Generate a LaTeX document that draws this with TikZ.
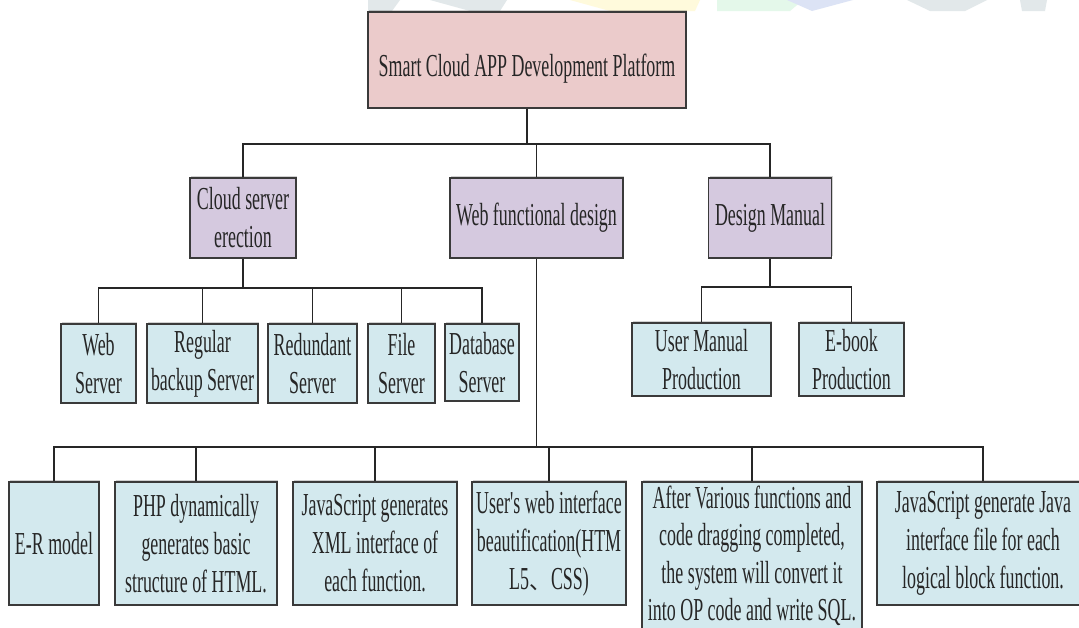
\documentclass[tikz,border=0pt]{standalone}
\usepackage{fontspec}
\setmainfont[FakeStretch=0.56, Ligatures=TeXOff]{Liberation Serif}
\newfontfamily\cjkfont{Noto Sans CJK SC}
\usetikzlibrary{shadows}

\definecolor{rootfill}{HTML}{EBCBCB}
\definecolor{midfill}{HTML}{D5C9DF}
\definecolor{leaffill}{HTML}{D3E9EE}
\definecolor{edgecol}{HTML}{3A3A3A}
\definecolor{wmgray}{HTML}{E2E8EA}
\definecolor{wmyellow}{HTML}{FFFADC}
\definecolor{wmgreen}{HTML}{E4F8EA}
\definecolor{wmblue}{HTML}{DCE3F5}

\tikzset{
  box/.style={draw=edgecol, line width=1.4pt, align=center, inner sep=0pt,
    font=\fontsize{32}{38}\selectfont, text=black!85,
    drop shadow={shadow xshift=1pt, shadow yshift=2pt, fill=black, opacity=0.18}},
  rootbox/.style={box, fill=rootfill},
  midbox/.style={box, fill=midfill},
  leafbox/.style={box, fill=leaffill},
  wire/.style={draw=black!85, line width=1.3pt}
}

\begin{document}
\begin{tikzpicture}[x=1pt, y=-1pt]
  \useasboundingbox (0,0) rectangle (1079,627);
  \fill[white] (0,0) rectangle (1079,627);

  % faint emblem showing along the top edge
  \begin{scope}
    \clip (0,0) rectangle (1079,11);
    \fill[wmgray] (368,0) -- (400,0) -- (392,11) -- (368,11) -- cycle;
    \fill[wmgray] (430,0) -- (507,0) -- (500,11) -- (470,11) -- cycle;
    \fill[wmyellow] (570,0) -- (700,0) -- (695,11) -- (610,11) -- cycle;
    \fill[wmgreen] (717,0) -- (803,0) -- (790,11) -- (717,11) -- cycle;
    \fill[wmblue] (787,0) -- (853,0) -- (812,11) -- cycle;
    \fill[wmgray] (907,0) -- (987,0) -- (965,11) -- (930,11) -- cycle;
    \fill[wmgray] (1020,0) -- (1047,0) -- (1045,11) -- (1022,11) -- cycle;
  \end{scope}

  % level 0
  \node[rootbox, minimum width=318pt, minimum height=96pt,
        text height=38pt, text depth=6pt] (root) at (527,60)
        {Smart Cloud APP Development Platform};

  % level 1
  \node[midbox, minimum width=106pt, minimum height=80pt] (cloud) at (243,218)
        {Cloud server\\erection};
  \node[midbox, minimum width=173pt, minimum height=80pt] (webfn) at (536.5,218)
        {Web functional design};
  \node[midbox, minimum width=123pt, minimum height=80pt] (manual) at (770,218)
        {Design Manual};

  % servers
  \node[leafbox, minimum width=75pt, minimum height=79pt] (websrv) at (98.5,363.5)
        {Web\\Server};
  \node[leafbox, minimum width=111pt, minimum height=79pt] (backup) at (202.5,363.5)
        {Regular\\backup Server};
  \node[leafbox, minimum width=89pt, minimum height=79pt] (redund) at (312.5,363.5)
        {Redundant\\Server};
  \node[leafbox, minimum width=67pt, minimum height=79pt] (filesrv) at (401.5,363.5)
        {File\\Server};
  \node[leafbox, minimum width=74pt, minimum height=77pt] (dbsrv) at (482,362.5)
        {Database\\Server};

  % manuals
  \node[leafbox, minimum width=139pt, minimum height=73pt] (usermanual) at (701.5,359.5)
        {User Manual\\Production};
  \node[leafbox, minimum width=105pt, minimum height=73pt] (ebook) at (851.5,359.5)
        {E-book\\Production};

  % web functions
  \node[leafbox, minimum width=90pt, minimum height=123pt] (ermodel) at (54,543.5)
        {E-R model};
  \node[leafbox, minimum width=162pt, minimum height=123pt] (php) at (196,543.5)
        {PHP dynamically\\generates basic\\structure of HTML.};
  \node[leafbox, minimum width=164pt, minimum height=123pt] (jsxml) at (375,543.5)
        {JavaScript generates\\XML interface of\\each function.};
  \node[leafbox, minimum width=154pt, minimum height=123pt] (beauty) at (549,543.5)
        {User's web interface\\beautification(HTM\\L5{\cjkfont\fontsize{22}{38}\selectfont 、}CSS)};
  \node[leafbox, minimum width=220pt, minimum height=148pt,
        font=\fontsize{32}{37.5}\selectfont] (opcode) at (752,556)
        {After Various functions and\\code dragging completed,\\the system will convert it\\into OP code and write SQL.};
  \node[leafbox, minimum width=212pt, minimum height=123pt] (jsjava) at (983,543.5)
        {JavaScript generate Java\\interface file for each\\logical block function.};

  % bus lines
  \coordinate (bus0) at (0,144);
  \coordinate (bus1) at (0,288);
  \coordinate (bus2) at (0,287);
  \coordinate (bus3) at (0,447);

  \draw[wire] (root.south) -- (root.south |- bus0) -| (cloud.north);
  \draw[wire] (root.south |- bus0) -| (webfn.north);
  \draw[wire] (root.south |- bus0) -| (manual.north);

  \draw[wire] (cloud.south) -- (cloud.south |- bus1) -| (websrv.north);
  \draw[wire] (cloud.south |- bus1) -| (backup.north);
  \draw[wire] (cloud.south |- bus1) -| (redund.north);
  \draw[wire] (cloud.south |- bus1) -| (filesrv.north);
  \draw[wire] (cloud.south |- bus1) -| (dbsrv.north);

  \draw[wire] (manual.south) -- (manual.south |- bus2) -| (usermanual.north);
  \draw[wire] (manual.south |- bus2) -| (ebook.north);

  \draw[wire] (webfn.south) -- (webfn.south |- bus3) -| (ermodel.north);
  \draw[wire] (webfn.south |- bus3) -| (php.north);
  \draw[wire] (webfn.south |- bus3) -| (jsxml.north);
  \draw[wire] (webfn.south |- bus3) -| (beauty.north);
  \draw[wire] (webfn.south |- bus3) -| (opcode.north);
  \draw[wire] (webfn.south |- bus3) -| (jsjava.north);
\end{tikzpicture}
\end{document}
